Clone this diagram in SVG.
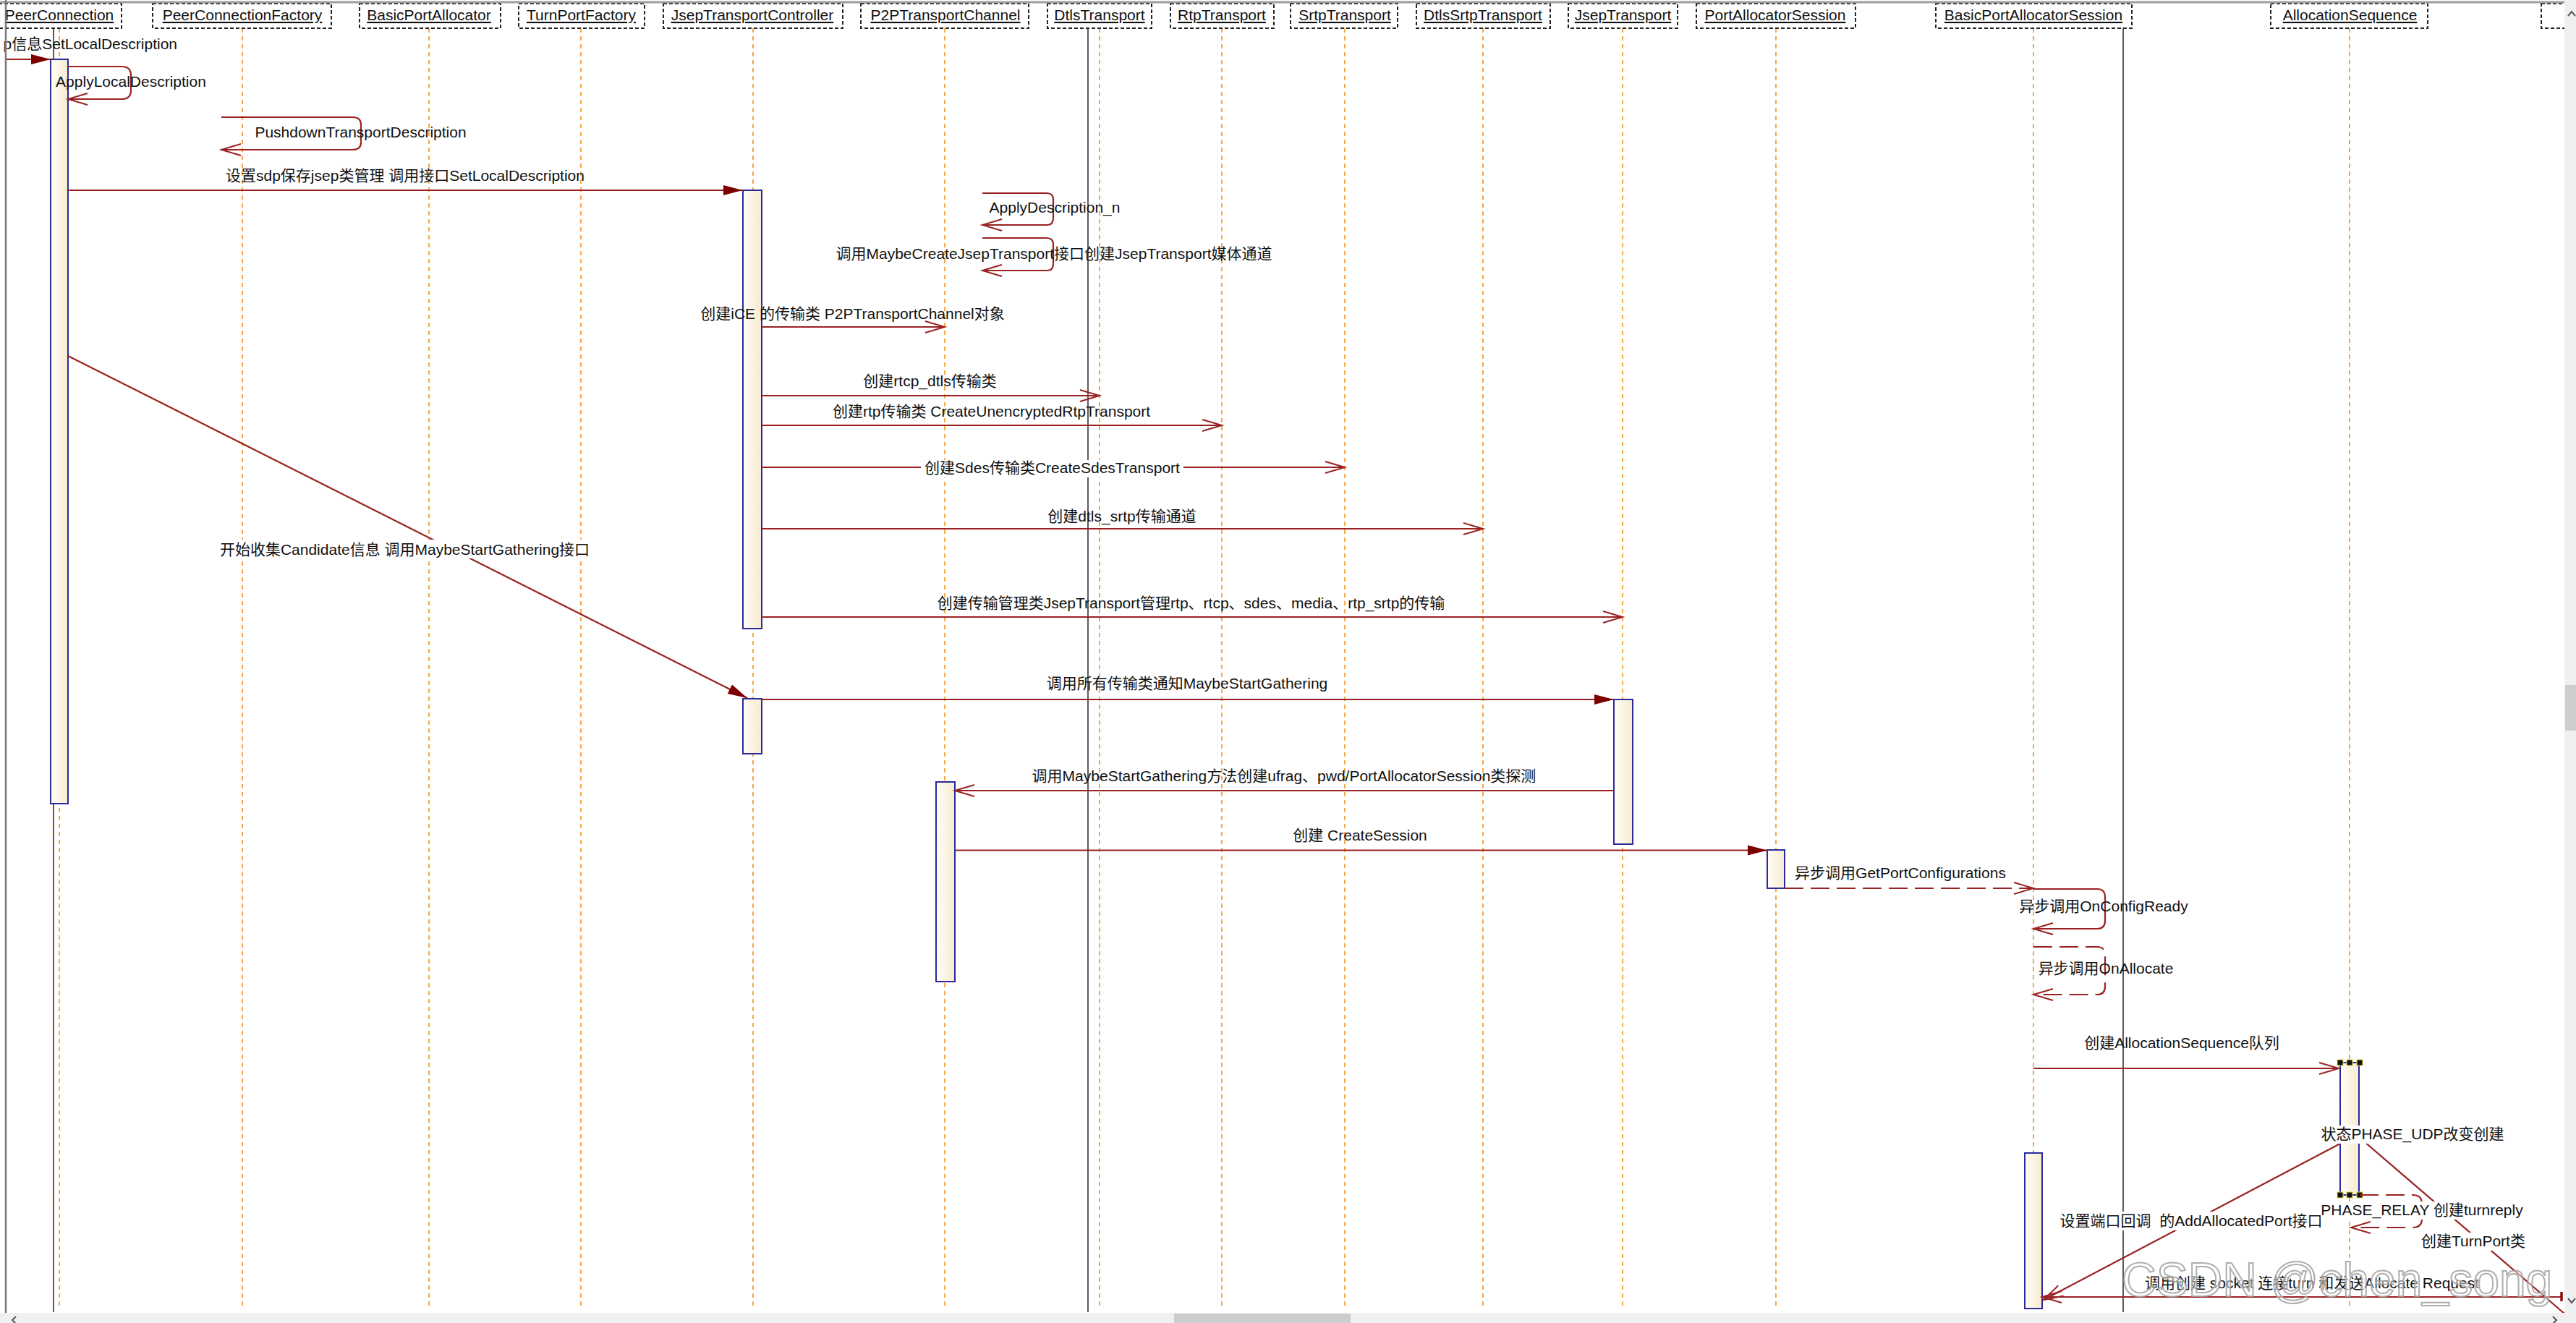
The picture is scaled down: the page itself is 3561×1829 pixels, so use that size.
<svg xmlns="http://www.w3.org/2000/svg" width="3561" height="1829" viewBox="0 0 3561 1829">
<style>
.box{fill:#fff;stroke:#222;stroke-width:2;stroke-dasharray:5 3}
.hname{font-family:"Liberation Sans","Noto Sans CJK SC",sans-serif;font-size:21px;fill:#111;text-anchor:middle;text-decoration:underline}
.life{stroke:#F7931E;stroke-width:1.6;stroke-dasharray:6 5;fill:none}
.solid{stroke:#333;stroke-width:1.6;fill:none}
.bar{fill:url(#barg);stroke:#2A2A9C;stroke-width:2}
.msg{fill:none;stroke:#9A2222;stroke-width:2.2}
.dash{stroke-dasharray:26 10}
.lbl{font-family:"Liberation Sans","Noto Sans CJK SC",sans-serif;font-size:21px;fill:#111;text-anchor:middle}
.bg{fill:#fff}
.hdl{fill:#111;stroke:#E8D84A;stroke-width:1}
.ui{fill:#F0F0F0}
.thumb{fill:#CDCDCD}
.chev{fill:none;stroke:#555;stroke-width:2}
</style>
<defs>
<linearGradient id="barg" x1="0" y1="0" x2="1" y2="0">
<stop offset="0" stop-color="#FFFDF7"/>
<stop offset="1" stop-color="#F7EBD0"/>
</linearGradient>
<marker id="af" markerUnits="userSpaceOnUse" markerWidth="28" markerHeight="14" viewBox="0 0 28 14" refX="27" refY="7" orient="auto" overflow="visible">
<path d="M0,0 L27,7 L0,14 Z" fill="#7D0000"/>
</marker>
<marker id="ao" markerUnits="userSpaceOnUse" markerWidth="30" markerHeight="20" viewBox="0 0 30 20" refX="27" refY="9" orient="auto" overflow="visible">
<path d="M0,1 L27,9 L0,17" fill="none" stroke="#9A2222" stroke-width="2"/>
</marker>
</defs>
<rect x="0" y="0" width="3561" height="1829" fill="#fff"/>

<g id="PeerConnection">
<line class="life" x1="82" y1="39" x2="82" y2="1810"/>
<line class="solid" x1="74" y1="39" x2="74" y2="1814"/>
<rect class="box" x="-10" y="5" width="178" height="34"/>
<text class="hname" x="82" y="28">PeerConnection</text>
<rect class="bar" x="70" y="82" width="24" height="1029"/>
</g>
<g id="PeerConnectionFactory">
<line class="life" x1="335" y1="39" x2="335" y2="1810"/>
<rect class="box" x="211" y="5" width="247" height="34"/>
<text class="hname" x="335" y="28">PeerConnectionFactory</text>
</g>
<g id="BasicPortAllocator">
<line class="life" x1="593" y1="39" x2="593" y2="1810"/>
<rect class="box" x="497" y="5" width="195" height="34"/>
<text class="hname" x="593" y="28">BasicPortAllocator</text>
</g>
<g id="TurnPortFactory">
<line class="life" x1="803" y1="39" x2="803" y2="1810"/>
<rect class="box" x="717" y="5" width="174" height="34"/>
<text class="hname" x="803.5" y="28">TurnPortFactory</text>
</g>
<g id="JsepTransportController">
<line class="life" x1="1041" y1="39" x2="1041" y2="1810"/>
<rect class="box" x="917" y="5" width="248" height="34"/>
<text class="hname" x="1040" y="28">JsepTransportController</text>
<rect class="bar" x="1027" y="263" width="26" height="606"/>
<rect class="bar" x="1027" y="966" width="26" height="76"/>
</g>
<g id="P2PTransportChannel">
<line class="life" x1="1306" y1="39" x2="1306" y2="1810"/>
<rect class="box" x="1190" y="5" width="232" height="34"/>
<text class="hname" x="1307" y="28">P2PTransportChannel</text>
<rect class="bar" x="1294" y="1081" width="26" height="276"/>
</g>
<g id="DtlsTransport">
<line class="life" x1="1520" y1="39" x2="1520" y2="1810"/>
<line class="solid" x1="1504" y1="39" x2="1504" y2="1814"/>
<rect class="box" x="1448" y="5" width="144" height="34"/>
<text class="hname" x="1520" y="28">DtlsTransport</text>
</g>
<g id="RtpTransport">
<line class="life" x1="1689" y1="39" x2="1689" y2="1810"/>
<rect class="box" x="1618" y="5" width="143" height="34"/>
<text class="hname" x="1689" y="28">RtpTransport</text>
</g>
<g id="SrtpTransport">
<line class="life" x1="1859" y1="39" x2="1859" y2="1810"/>
<rect class="box" x="1784" y="5" width="148" height="34"/>
<text class="hname" x="1859" y="28">SrtpTransport</text>
</g>
<g id="DtlsSrtpTransport">
<line class="life" x1="2050" y1="39" x2="2050" y2="1810"/>
<rect class="box" x="1958" y="5" width="185" height="34"/>
<text class="hname" x="2050" y="28">DtlsSrtpTransport</text>
</g>
<g id="JsepTransport">
<line class="life" x1="2243" y1="39" x2="2243" y2="1810"/>
<rect class="box" x="2168" y="5" width="151" height="34"/>
<text class="hname" x="2243.5" y="28">JsepTransport</text>
<rect class="bar" x="2231" y="967" width="26" height="200"/>
</g>
<g id="PortAllocatorSession">
<line class="life" x1="2455" y1="39" x2="2455" y2="1810"/>
<rect class="box" x="2345" y="5" width="220" height="34"/>
<text class="hname" x="2454" y="28">PortAllocatorSession</text>
<rect class="bar" x="2443" y="1175" width="24" height="53"/>
</g>
<g id="BasicPortAllocatorSession">
<line class="life" x1="2811" y1="39" x2="2811" y2="1810"/>
<line class="solid" x1="2935" y1="39" x2="2935" y2="1814"/>
<rect class="box" x="2676" y="5" width="271" height="34"/>
<text class="hname" x="2811" y="28">BasicPortAllocatorSession</text>
<rect class="bar" x="2799" y="1594" width="24" height="215"/>
</g>
<g id="AllocationSequence">
<line class="life" x1="3248" y1="39" x2="3248" y2="1810"/>
<rect class="box" x="3139" y="5" width="217" height="34"/>
<text class="hname" x="3248.5" y="28">AllocationSequence</text>
<rect class="bar" x="3235" y="1469" width="26" height="183"/>
<rect class="hdl" x="3231" y="1465" width="8" height="8"/>
<rect class="hdl" x="3244" y="1465" width="8" height="8"/>
<rect class="hdl" x="3258" y="1465" width="8" height="8"/>
<rect class="hdl" x="3231" y="1648" width="8" height="8"/>
<rect class="hdl" x="3244" y="1648" width="8" height="8"/>
<rect class="hdl" x="3258" y="1648" width="8" height="8"/>
<rect class="hdl" x="3231" y="1557" width="8" height="8"/>
</g>
<g id="Participant15">
<rect class="box" x="3513" y="5" width="60" height="34"/>
</g>

<g id="connectors">
<line class="msg" x1="8" y1="82" x2="70" y2="82" marker-end="url(#af)"/>
<text class="lbl" x="245" y="68" text-anchor="end" style="text-anchor:end">p信息SetLocalDescription</text>

<path class="msg" d="M94,92 H168 Q181,92 181,104 V125 Q181,137 168,137 H94" marker-end="url(#ao)"/>
<text class="lbl" x="181" y="120">ApplyLocalDescription</text>

<path class="msg" d="M306,162 H487 Q499,162 499,172 V197 Q499,207 487,207 H306" marker-end="url(#ao)"/>
<text class="lbl" x="498.5" y="190">PushdownTransportDescription</text>

<line class="msg" x1="94" y1="263" x2="1027" y2="263" marker-end="url(#af)"/>
<text class="lbl" x="560" y="250">设置sdp保存jsep类管理 调用接口SetLocalDescription</text>

<path class="msg" d="M1358,267 H1447 Q1456,267 1456,276 V302 Q1456,311 1447,311 H1358" marker-end="url(#ao)"/>
<text class="lbl" x="1458" y="293.5">ApplyDescription_n</text>

<path class="msg" d="M1358,329 H1447 Q1456,329 1456,338 V365 Q1456,374 1447,374 H1358" marker-end="url(#ao)"/>
<text class="lbl" x="1457" y="358">调用MaybeCreateJsepTransport接口创建JsepTransport媒体通道</text>

<line class="msg" x1="1053" y1="452" x2="1306" y2="452" marker-end="url(#ao)"/>
<text class="lbl" x="1178.5" y="441">创建iCE 的传输类 P2PTransportChannel对象</text>

<line class="msg" x1="1053" y1="547" x2="1520" y2="547" marker-end="url(#ao)"/>
<text class="lbl" x="1285.5" y="534">创建rtcp_dtls传输类</text>

<line class="msg" x1="1053" y1="588" x2="1689" y2="588" marker-end="url(#ao)"/>
<text class="lbl" x="1370.5" y="575.5">创建rtp传输类 CreateUnencryptedRtpTransport</text>

<line class="msg" x1="1053" y1="646" x2="1859" y2="646" marker-end="url(#ao)"/>
<rect class="bg" x="1273" y="636" width="363" height="24"/>
<text class="lbl" x="1454.5" y="654">创建Sdes传输类CreateSdesTransport</text>

<line class="msg" x1="1053" y1="731" x2="2050" y2="731" marker-end="url(#ao)"/>
<text class="lbl" x="1551" y="720.6">创建dtls_srtp传输通道</text>

<line class="msg" x1="1053" y1="853" x2="2243" y2="853" marker-end="url(#ao)"/>
<text class="lbl" x="1646.5" y="841">创建传输管理类JsepTransport管理rtp、rtcp、sdes、media、rtp_srtp的传输</text>

<line class="msg" x1="94" y1="492" x2="1033" y2="965" stroke-width="1.8" marker-end="url(#af)"/>
<rect class="bg" x="300" y="746" width="519" height="26"/>
<text class="lbl" x="559.5" y="766.6">开始收集Candidate信息 调用MaybeStartGathering接口</text>

<line class="msg" x1="1053" y1="967" x2="2231" y2="967" marker-end="url(#af)"/>
<text class="lbl" x="1641" y="952">调用所有传输类通知MaybeStartGathering</text>

<line class="msg" x1="2231" y1="1093" x2="1320" y2="1093" marker-end="url(#ao)"/>
<text class="lbl" x="1775" y="1080">调用MaybeStartGathering方法创建ufrag、pwd/PortAllocatorSession类探测</text>

<line class="msg" x1="1320" y1="1175.5" x2="2443" y2="1175.5" marker-end="url(#af)"/>
<text class="lbl" x="1880" y="1162">创建 CreateSession</text>

<line class="msg dash" x1="2467" y1="1228" x2="2811" y2="1228" marker-end="url(#ao)"/>
<text class="lbl" x="2627" y="1214">异步调用GetPortConfigurations</text>

<path class="msg" d="M2811,1229 H2899 Q2910,1229 2910,1240 V1273 Q2910,1284 2899,1284 H2811" marker-end="url(#ao)"/>
<text class="lbl" x="2908" y="1260">异步调用OnConfigReady</text>

<path class="msg dash" d="M2811,1309 H2899 Q2910,1309 2910,1320 V1364 Q2910,1375 2899,1375 H2811" marker-end="url(#ao)"/>
<text class="lbl" x="2911" y="1346">异步调用OnAllocate</text>

<line class="msg" x1="2811" y1="1477" x2="3233" y2="1477" marker-end="url(#ao)"/>
<text class="lbl" x="3016" y="1449">创建AllocationSequence队列</text>

<line class="msg" x1="3235" y1="1581" x2="2825" y2="1797" stroke-width="1.8" marker-end="url(#ao)"/>
<line class="msg" x1="3261" y1="1572" x2="3545" y2="1816" stroke-width="1.8"/>
<path class="msg dash" d="M3262,1652 H3335 Q3348,1652 3348,1664 V1685 Q3348,1697 3335,1697 H3250" marker-end="url(#ao)"/>

<rect class="bg" x="3209" y="1556" width="252" height="25"/>
<text class="lbl" x="3335" y="1575">状态PHASE_UDP改变创建</text>
<rect class="bg" x="2845" y="1675" width="366" height="26"/>
<text class="lbl" x="3029" y="1695">设置端口回调 &#160;的AddAllocatedPort接口</text>
<rect class="bg" x="3208" y="1661" width="281" height="25"/>
<text class="lbl" x="3348" y="1680">PHASE_RELAY 创建turnreply</text>
<rect class="bg" x="3345" y="1704" width="149" height="25"/>
<text class="lbl" x="3419" y="1723">创建TurnPort类</text>

<line class="msg" x1="3541" y1="1793" x2="2823" y2="1793" marker-end="url(#ao)"/>
<line x1="3541" y1="1786" x2="3541" y2="1799" stroke="#8A1010" stroke-width="3.5"/>
<text class="lbl" x="3196" y="1781">调用创建 socket 连接turn 和发送Allocate Request</text>
</g>

<text x="2933" y="1792" font-family="Liberation Sans, sans-serif" font-size="66" fill="#ffffff" fill-opacity="0.45" stroke="#a0a0a0" stroke-opacity="0.85" stroke-width="2">CSDN @chen_song</text>

<g id="frame">
<rect class="ui" x="3545" y="0" width="16" height="1829"/>
<rect class="thumb" x="3546" y="947" width="15" height="63"/>
<polyline class="chev" points="3550,22 3555,16 3560,22"/>
<polyline class="chev" points="3550,1795 3555,1801 3560,1795"/>
<rect class="ui" x="0" y="1815" width="3545" height="14"/>
<rect class="thumb" x="1623" y="1816" width="244" height="13"/>
<polyline class="chev" points="22,1820 17,1825 22,1830"/>
<polyline class="chev" points="3529,1820 3534,1825 3529,1830"/>
<line x1="0" y1="3" x2="3545" y2="3" stroke="#9E9E9E" stroke-width="3"/>
<line x1="8" y1="0" x2="8" y2="1815" stroke="#7A7A7A" stroke-width="2.5"/>
</g>
</svg>
